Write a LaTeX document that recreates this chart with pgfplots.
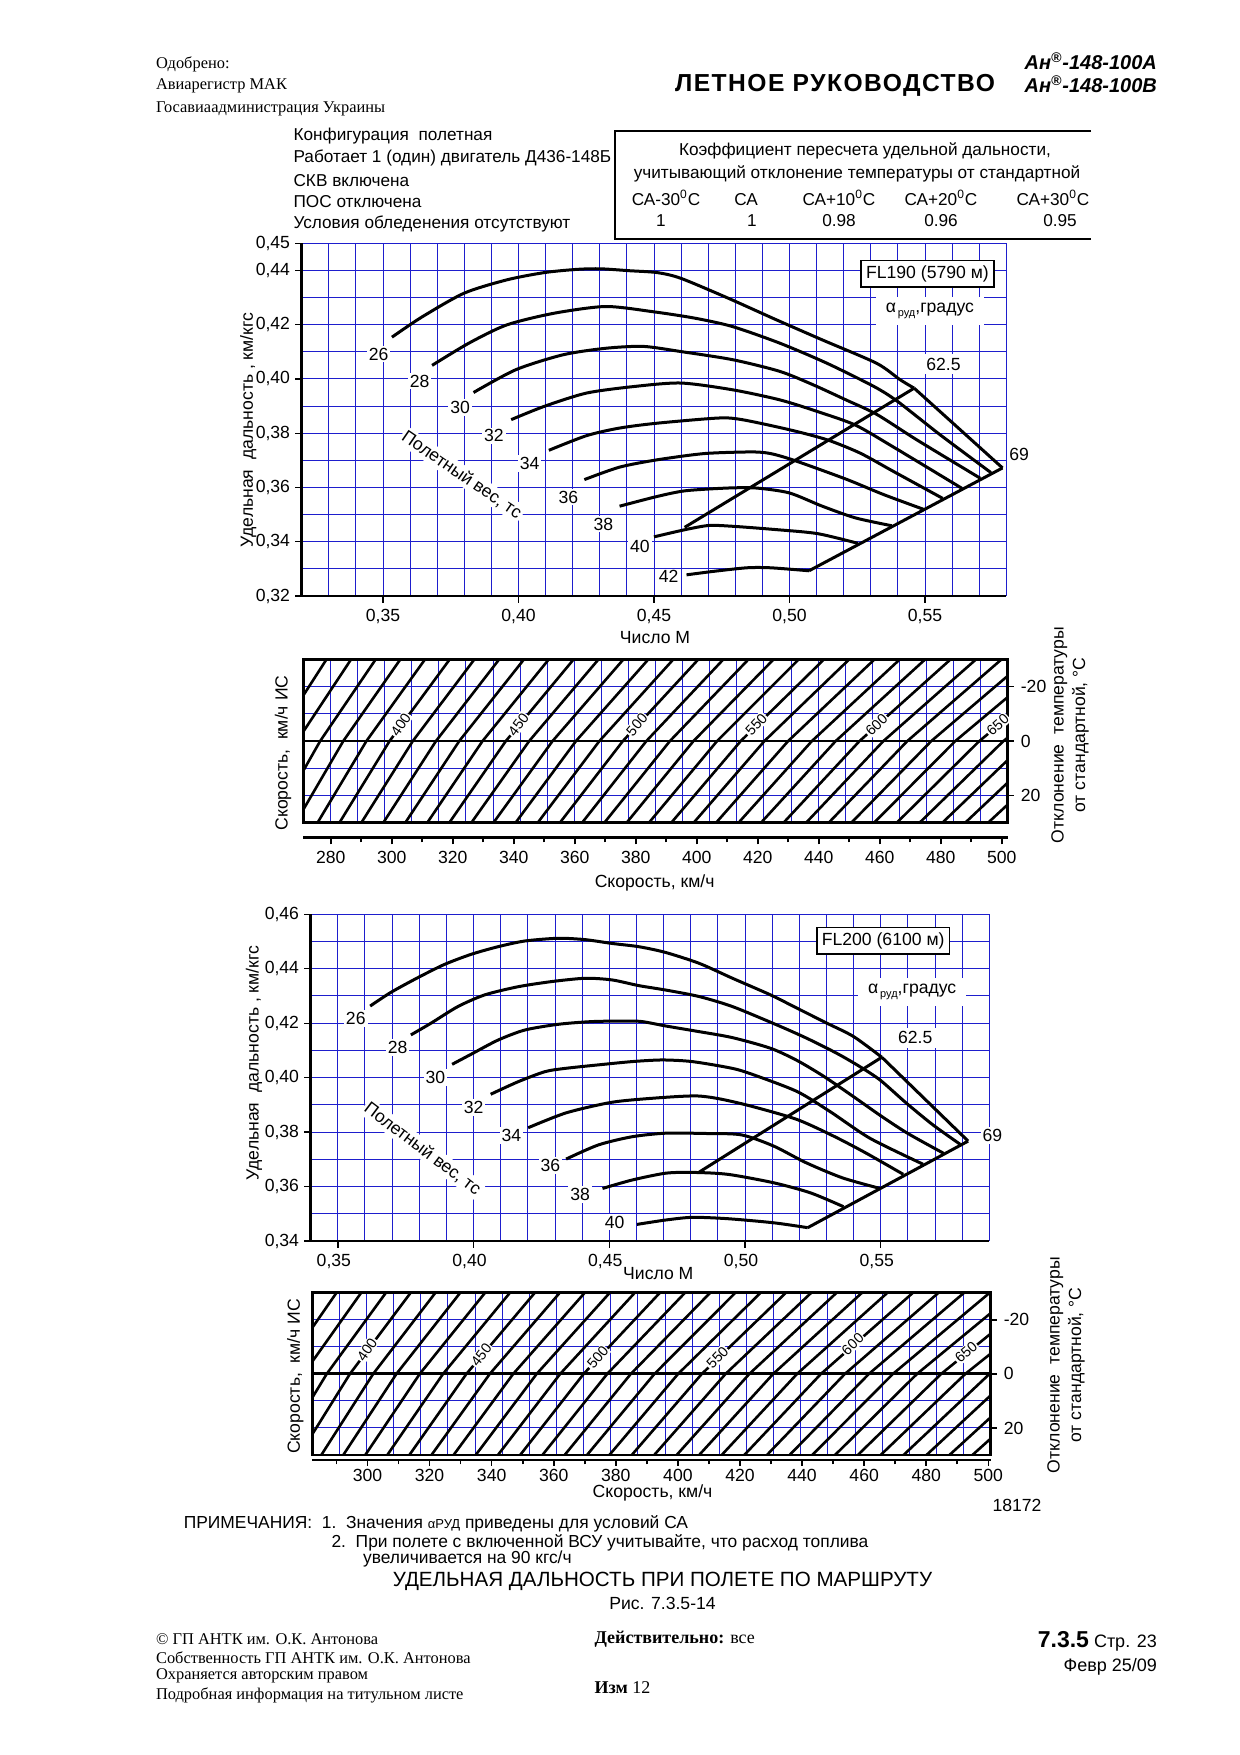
\documentclass[border=0pt]{standalone}
\usepackage{fontspec}
\setmainfont{Liberation Sans}
\newfontfamily\tnr{Liberation Serif}
\usepackage{pgfplots}
\pgfplotsset{compat=1.18}
\definecolor{gridblue}{RGB}{30,30,205}
\newcommand\fs[1]{\fontsize{#1pt}{#1pt}\selectfont}
\tikzset{
  lbl/.style={fill=white, inner sep=1pt, font=\fs{8.8}},
  hlbl/.style={fill=white, inner sep=0.6pt, font=\fs{7.2}},
}
\pgfplotsset{
  /pgf/number format/assume math mode=true,
  mchart/.style={scale only axis, anchor=south west,
    axis line style={draw=none},
    xtick pos=left, ytick pos=left,
    tick align=outside, major tick length=3.3pt, minor tick length=0pt,
    tick style={black, line width=0.7pt},
    grid=both, major grid style={gridblue, line width=0.5pt}, minor grid style={gridblue, line width=0.5pt},
    ticklabel style={font=\fs{8.8}},
    yticklabel style={xshift=1pt},
    clip mode=individual},
  hatch/.style={scale only axis, anchor=south west, axis line style={draw=none},
    y dir=reverse, ymin=-30, ymax=30, major tick length=0pt, minor tick length=0pt,
    xticklabels={}, ytick={-20,0,20}, yticklabels={-20,0,20}, minor ytick={-10,10},
    ytick pos=right, yticklabel pos=right, yticklabel style={font=\fs{8.8}, xshift=3pt},
    grid=both, major grid style={gridblue, line width=0.5pt}, minor grid style={gridblue, line width=0.5pt},
    clip mode=individual},
  saxis/.style={scale only axis, anchor=south west, height=2pt, ymin=0, ymax=1, ytick=\empty,
    axis line style={draw=none}, xtick pos=left, tick align=outside, clip=false,
    major tick length=3.5pt, minor tick length=2.5pt, tick style={black, line width=0.8pt},
    ticklabel style={font=\fs{8.8}}},
  curve/.style={black, line width=1.5pt, smooth, tension=0.45, mark=none},
  hl/.style={black, line width=1.3pt, mark=none},
}
\begin{document}
\begin{tikzpicture}
\fill[white] (0,0) rectangle (620pt,-877.5pt);
\useasboundingbox (0,0) rectangle (620pt,-877.5pt);

% ===================== FL190 =====================
\begin{axis}[mchart, at={(150.85pt,-298pt)}, width=352.3pt, height=176.35pt,
  xmin=0.32, xmax=0.58, ymin=0.32, ymax=0.45,
  xtick={0.35,0.40,0.45,0.50,0.55}, xticklabels={{0,35},{0,40},{0,45},{0,50},{0,55}},
  minor xtick={0.33,0.34,0.36,0.37,0.38,0.39,0.41,0.42,0.43,0.44,0.46,0.47,0.48,0.49,0.51,0.52,0.53,0.54,0.56,0.57,0.58},
  ytick={0.32,0.34,0.36,0.38,0.40,0.42,0.44,0.45},
  yticklabels={{0,32},{0,34},{0,36},{0,38},{0,40},{0,42},{0,44},{0,45}},
  minor ytick={0.33,0.35,0.37,0.39,0.41,0.43}]
\addplot[curve] coordinates {(0.3533,0.4154) (0.3643,0.4228) (0.3799,0.4316) (0.3956,0.4365) (0.4095,0.4392) (0.4217,0.4404) (0.4303,0.4406) (0.4408,0.4399) (0.4512,0.4392) (0.4599,0.4371) (0.4773,0.4298) (0.4947,0.4220) (0.5121,0.4144) (0.5321,0.4058) (0.5407,0.3998) (0.5460,0.3966)};
\addplot[hl, line width=1.5pt] coordinates {(0.5460,0.3966) (0.5786,0.3672)};
\addplot[curve] coordinates {(0.3681,0.4050) (0.3817,0.4132) (0.3956,0.4199) (0.4130,0.4242) (0.4321,0.4267) (0.4495,0.4248) (0.4651,0.4224) (0.4790,0.4193) (0.4964,0.4132) (0.5138,0.4058) (0.5312,0.3972) (0.5399,0.3917) (0.5556,0.3794) (0.5743,0.3655)};
\addplot[curve] coordinates {(0.3834,0.3950) (0.3990,0.4034) (0.4164,0.4089) (0.4321,0.4113) (0.4460,0.4120) (0.4599,0.4101) (0.4790,0.4071) (0.4964,0.4028) (0.5086,0.3979) (0.5208,0.3923) (0.5321,0.3870) (0.5469,0.3776) (0.5704,0.3634)};
\addplot[curve] coordinates {(0.3973,0.3850) (0.4095,0.3899) (0.4251,0.3948) (0.4425,0.3972) (0.4599,0.3985) (0.4790,0.3960) (0.4964,0.3923) (0.5103,0.3880) (0.5243,0.3830) (0.5382,0.3750) (0.5636,0.3597)};
\addplot[curve] coordinates {(0.4112,0.3737) (0.4251,0.3791) (0.4373,0.3819) (0.4512,0.3837) (0.4738,0.3856) (0.4825,0.3850) (0.4999,0.3813) (0.5138,0.3776) (0.5260,0.3727) (0.5382,0.3660) (0.5565,0.3560)};
\addplot[curve] coordinates {(0.4243,0.3629) (0.4373,0.3675) (0.4512,0.3702) (0.4686,0.3725) (0.4860,0.3731) (0.4930,0.3725) (0.5017,0.3700) (0.5208,0.3631) (0.5347,0.3574) (0.5496,0.3519)};
\addplot[curve] coordinates {(0.4373,0.3531) (0.4512,0.3567) (0.4617,0.3588) (0.4773,0.3598) (0.4877,0.3598) (0.4999,0.3580) (0.5121,0.3531) (0.5243,0.3488) (0.5377,0.3459)};
\addplot[curve] coordinates {(0.4500,0.3418) (0.4617,0.3445) (0.4703,0.3460) (0.4790,0.3457) (0.4947,0.3445) (0.5103,0.3430) (0.5253,0.3394)};
\addplot[curve] coordinates {(0.4620,0.3278) (0.4721,0.3291) (0.4843,0.3304) (0.4930,0.3304) (0.5072,0.3293)};
\addplot[hl, line width=1.5pt] coordinates {(0.4613,0.3453) (0.5460,0.3966)};
\addplot[hl, line width=1.5pt] coordinates {(0.5072,0.3293) (0.5786,0.3672)};
\draw[line width=1.4pt] (rel axis cs:0,1) -- (rel axis cs:0,0) -- (rel axis cs:1,0);
\node[lbl] at (axis cs:0.3484,0.4092) {26};
\node[lbl] at (axis cs:0.3635,0.3992) {28};
\node[lbl] at (axis cs:0.3785,0.3894) {30};
\node[lbl] at (axis cs:0.3909,0.3790) {32};
\node[lbl] at (axis cs:0.4041,0.3689) {34};
\node[lbl] at (axis cs:0.4184,0.3564) {36};
\node[lbl] at (axis cs:0.4313,0.3465) {38};
\node[lbl] at (axis cs:0.4448,0.3384) {40};
\node[lbl] at (axis cs:0.4554,0.3271) {42};
\node[lbl, rotate=-34.4] at (axis cs:0.3791,0.3646) {Полетный вес, тс};
\node[draw=black, fill=white, line width=0.8pt, inner sep=2.5pt, font=\fs{8.8}] at (axis cs:0.5509,0.4388) {FL190 (5790 м)};
\node[fill=white, inner xsep=5pt, inner ysep=3pt, font=\fs{8.8}] at (axis cs:0.5518,0.4250) {α\raisebox{-2pt}{\fs{5.5}\,руд},градус};
\node[fill=white, inner xsep=6pt, inner ysep=2pt, font=\fs{8.8}] at (axis cs:0.5568,0.4055) {62.5};
\node[fill=white, inner sep=1pt, font=\fs{8.8}] at (axis cs:0.5847,0.3723) {69};
\end{axis}

% ===================== hatch FL190 =====================
\begin{axis}[hatch, at={(151.65pt,-411.35pt)}, width=352.25pt, height=81.7pt,
  xmin=271, xmax=502,
  xtick={279.89,288.77,297.66,306.54,315.43,324.31,333.20,342.08,350.97,359.85,368.74,377.62,386.51,395.39,404.28,413.16,422.05,430.93,439.82,448.70,457.59,466.47,475.36,484.24,493.13}]
\addplot[hl] coordinates {(278.62,-30) (261.40,0) (247.03,30)};
\addplot[hl] coordinates {(286.68,-30) (268.97,0) (254.18,30)};
\addplot[hl] coordinates {(294.75,-30) (276.54,0) (261.33,30)};
\addplot[hl] coordinates {(302.83,-30) (284.12,0) (268.50,30)};
\addplot[hl] coordinates {(310.92,-30) (291.71,0) (275.67,30)};
\addplot[hl] coordinates {(319.02,-30) (299.30,0) (282.85,30)};
\addplot[hl] coordinates {(327.12,-30) (306.91,0) (290.03,30)};
\addplot[hl] coordinates {(335.24,-30) (314.52,0) (297.23,30)};
\addplot[hl] coordinates {(343.37,-30) (322.15,0) (304.44,30)};
\addplot[hl] coordinates {(351.50,-30) (329.78,0) (311.65,30)};
\addplot[hl] coordinates {(359.65,-30) (337.42,0) (318.87,30)};
\addplot[hl] coordinates {(367.81,-30) (345.08,0) (326.11,30)};
\addplot[hl] coordinates {(375.98,-30) (352.74,0) (333.35,30)};
\addplot[hl] coordinates {(384.15,-30) (360.41,0) (340.60,30)};
\addplot[hl] coordinates {(392.35,-30) (368.10,0) (347.86,30)};
\addplot[hl] coordinates {(400.55,-30) (375.80,0) (355.13,30)};
\addplot[hl] coordinates {(408.76,-30) (383.50,0) (362.42,30)};
\addplot[hl] coordinates {(416.99,-30) (391.22,0) (369.71,30)};
\addplot[hl] coordinates {(425.23,-30) (398.95,0) (377.02,30)};
\addplot[hl] coordinates {(433.48,-30) (406.69,0) (384.33,30)};
\addplot[hl] coordinates {(441.74,-30) (414.44,0) (391.66,30)};
\addplot[hl] coordinates {(450.02,-30) (422.21,0) (399.00,30)};
\addplot[hl] coordinates {(458.31,-30) (429.99,0) (406.35,30)};
\addplot[hl] coordinates {(466.61,-30) (437.78,0) (413.71,30)};
\addplot[hl] coordinates {(474.93,-30) (445.58,0) (421.08,30)};
\addplot[hl] coordinates {(483.26,-30) (453.40,0) (428.47,30)};
\addplot[hl] coordinates {(491.61,-30) (461.23,0) (435.87,30)};
\addplot[hl] coordinates {(499.97,-30) (469.07,0) (443.28,30)};
\addplot[hl] coordinates {(508.35,-30) (476.93,0) (450.71,30)};
\addplot[hl] coordinates {(516.74,-30) (484.80,0) (458.15,30)};
\addplot[hl] coordinates {(525.14,-30) (492.69,0) (465.60,30)};
\addplot[hl] coordinates {(533.56,-30) (500.59,0) (473.07,30)};
\addplot[hl] coordinates {(542.00,-30) (508.50,0) (480.54,30)};
\addplot[hl] coordinates {(550.45,-30) (516.43,0) (488.04,30)};
\addplot[hl] coordinates {(558.92,-30) (524.38,0) (495.55,30)};
\addplot[hl] coordinates {(567.40,-30) (532.34,0) (503.07,30)};
\draw[line width=1.4pt] (axis cs:271,0) -- (axis cs:502,0);
\draw[line width=1.4pt] (rel axis cs:0,0) rectangle (rel axis cs:1,1);
\draw[line width=0.8pt] (axis cs:502,-20) -- ([xshift=3pt]axis cs:502,-20);
\draw[line width=0.8pt] (axis cs:502,0) -- ([xshift=3pt]axis cs:502,0);
\draw[line width=0.8pt] (axis cs:502,20) -- ([xshift=3pt]axis cs:502,20);
\node[hlbl, rotate=56] at (axis cs:302.95,-6) {400};
\node[hlbl, rotate=53] at (axis cs:341.54,-6) {450};
\node[hlbl, rotate=50] at (axis cs:380.38,-6) {500};
\node[hlbl, rotate=47] at (axis cs:419.50,-6) {550};
\node[hlbl, rotate=44] at (axis cs:458.93,-6) {600};
\node[hlbl, rotate=42] at (axis cs:498.70,-6) {650};
\end{axis}

% speed axis FL190
\begin{axis}[saxis, at={(151.65pt,-418.65pt)}, width=352.25pt,
  xmin=271, xmax=502,
  xtick={280,300,320,340,360,380,400,420,440,460,480,500},
  xticklabels={280,300,320,340,360,380,400,420,440,460,480,500},
  minor xtick={290,310,330,350,370,390,410,430,450,470,490}]
\draw[line width=1.4pt] (rel axis cs:0,0) -- (rel axis cs:1,0);
\end{axis}

% ===================== FL200 =====================
\begin{axis}[mchart, at={(155.35pt,-620.5pt)}, width=339.3pt, height=163.35pt,
  xmin=0.34, xmax=0.59, ymin=0.34, ymax=0.46,
  xtick={0.35,0.40,0.45,0.50,0.55}, xticklabels={{0,35},{0,40},{0,45},{0,50},{0,55}},
  xticklabel style={xshift=-2pt},
  minor xtick={0.36,0.37,0.38,0.39,0.41,0.42,0.43,0.44,0.46,0.47,0.48,0.49,0.51,0.52,0.53,0.54,0.56,0.57,0.58,0.59},
  ytick={0.34,0.36,0.38,0.40,0.42,0.44,0.46},
  yticklabels={{0,34},{0,36},{0,38},{0,40},{0,42},{0,44},{0,46}},
  minor ytick={0.35,0.37,0.39,0.41,0.43,0.45}]
\addplot[curve] coordinates {(0.3619,0.4263) (0.3695,0.4313) (0.3794,0.4367) (0.3893,0.4416) (0.3991,0.4453) (0.4090,0.4481) (0.4189,0.4502) (0.4312,0.4512) (0.4411,0.4507) (0.4510,0.4493) (0.4609,0.4481) (0.4707,0.4460) (0.4831,0.4420) (0.4954,0.4365) (0.5094,0.4304) (0.5192,0.4255) (0.5302,0.4200) (0.5400,0.4151) (0.5504,0.4075)};
\addplot[hl, line width=1.5pt] coordinates {(0.5504,0.4075) (0.5822,0.3767)};
\addplot[curve] coordinates {(0.3769,0.4157) (0.3843,0.4200) (0.3942,0.4261) (0.4041,0.4304) (0.4164,0.4334) (0.4288,0.4353) (0.4411,0.4365) (0.4510,0.4359) (0.4609,0.4338) (0.4707,0.4322) (0.4831,0.4298) (0.4954,0.4261) (0.5119,0.4193) (0.5229,0.4144) (0.5339,0.4089) (0.5424,0.4040) (0.5498,0.3991) (0.5595,0.3906) (0.5693,0.3826) (0.5793,0.3755)};
\addplot[curve] coordinates {(0.3921,0.4049) (0.3991,0.4086) (0.4090,0.4138) (0.4189,0.4175) (0.4312,0.4196) (0.4436,0.4206) (0.4559,0.4208) (0.4621,0.4206) (0.4707,0.4190) (0.4831,0.4169) (0.4954,0.4147) (0.5094,0.4108) (0.5192,0.4063) (0.5290,0.4005) (0.5400,0.3930) (0.5500,0.3860) (0.5600,0.3795) (0.5732,0.3722)};
\addplot[curve] coordinates {(0.4063,0.3939) (0.4164,0.3985) (0.4263,0.4022) (0.4337,0.4034) (0.4460,0.4047) (0.4584,0.4059) (0.4695,0.4065) (0.4806,0.4059) (0.4954,0.4034) (0.5033,0.4010) (0.5192,0.3949) (0.5314,0.3875) (0.5461,0.3777) (0.5656,0.3682)};
\addplot[curve] coordinates {(0.4201,0.3816) (0.4342,0.3871) (0.4512,0.3910) (0.4681,0.3926) (0.4817,0.3933) (0.4902,0.3923) (0.5020,0.3896) (0.5190,0.3847) (0.5325,0.3786) (0.5444,0.3724) (0.5583,0.3645)};
\addplot[curve] coordinates {(0.4341,0.3701) (0.4460,0.3753) (0.4584,0.3783) (0.4707,0.3796) (0.4851,0.3795) (0.4986,0.3790) (0.5105,0.3749) (0.5224,0.3688) (0.5359,0.3632) (0.5498,0.3593)};
\addplot[curve] coordinates {(0.4475,0.3593) (0.4584,0.3624) (0.4707,0.3649) (0.4806,0.3652) (0.4936,0.3645) (0.5105,0.3614) (0.5241,0.3577) (0.5363,0.3526)};
\addplot[curve] coordinates {(0.4602,0.3461) (0.4707,0.3477) (0.4806,0.3487) (0.4936,0.3482) (0.5105,0.3467) (0.5231,0.3449)};
\addplot[hl, line width=1.5pt] coordinates {(0.4831,0.3653) (0.5504,0.4075)};
\addplot[hl, line width=1.5pt] coordinates {(0.5231,0.3449) (0.5822,0.3767)};
\draw[line width=1.4pt] (rel axis cs:0,1) -- (rel axis cs:0,0) -- (rel axis cs:1,0);
\node[lbl] at (axis cs:0.3566,0.4218) {26};
\node[lbl] at (axis cs:0.3720,0.4110) {28};
\node[lbl] at (axis cs:0.3859,0.4000) {30};
\node[lbl] at (axis cs:0.4000,0.3890) {32};
\node[lbl] at (axis cs:0.4139,0.3788) {34};
\node[lbl] at (axis cs:0.4283,0.3678) {36};
\node[lbl] at (axis cs:0.4393,0.3571) {38};
\node[lbl] at (axis cs:0.4520,0.3470) {40};
\node[lbl, rotate=-37] at (axis cs:0.3812,0.3738) {Полетный вес, тс};
\node[draw=black, fill=white, line width=0.8pt, inner sep=2.5pt, font=\fs{8.8}] at (axis cs:0.5509,0.4503) {FL200 (6100 м)};
\node[fill=white, inner xsep=5pt, inner ysep=3pt, font=\fs{8.8}] at (axis cs:0.5616,0.4314) {α\raisebox{-2pt}{\fs{5.5}\,руд},градус};
\node[fill=white, inner xsep=6pt, inner ysep=2pt, font=\fs{8.8}] at (axis cs:0.5627,0.4146) {62.5};
\node[fill=white, inner sep=1pt, font=\fs{8.8}] at (axis cs:0.5911,0.3787) {69};
\end{axis}

% ===================== hatch FL200 =====================
\begin{axis}[hatch, at={(156.1pt,-727.5pt)}, width=339.27pt, height=81.15pt,
  xmin=282.18, xmax=500.78,
  xtick={290.92,299.67,308.41,317.16,325.90,334.64,343.39,352.13,360.88,369.62,378.36,387.11,395.85,404.60,413.34,422.08,430.83,439.57,448.32,457.06,465.80,474.55,483.29,492.04}]
\addplot[hl] coordinates {(282.07,-30) (264.49,0) (249.84,30)};
\addplot[hl] coordinates {(290.01,-30) (271.94,0) (256.88,30)};
\addplot[hl] coordinates {(297.96,-30) (279.40,0) (263.92,30)};
\addplot[hl] coordinates {(305.93,-30) (286.87,0) (270.97,30)};
\addplot[hl] coordinates {(313.90,-30) (294.34,0) (278.04,30)};
\addplot[hl] coordinates {(321.88,-30) (301.83,0) (285.11,30)};
\addplot[hl] coordinates {(329.87,-30) (309.32,0) (292.19,30)};
\addplot[hl] coordinates {(337.88,-30) (316.83,0) (299.28,30)};
\addplot[hl] coordinates {(345.89,-30) (324.34,0) (306.37,30)};
\addplot[hl] coordinates {(353.91,-30) (331.87,0) (313.48,30)};
\addplot[hl] coordinates {(361.95,-30) (339.40,0) (320.60,30)};
\addplot[hl] coordinates {(369.99,-30) (346.94,0) (327.72,30)};
\addplot[hl] coordinates {(378.05,-30) (354.50,0) (334.86,30)};
\addplot[hl] coordinates {(386.12,-30) (362.07,0) (342.01,30)};
\addplot[hl] coordinates {(394.20,-30) (369.64,0) (349.17,30)};
\addplot[hl] coordinates {(402.30,-30) (377.23,0) (356.34,30)};
\addplot[hl] coordinates {(410.40,-30) (384.83,0) (363.51,30)};
\addplot[hl] coordinates {(418.52,-30) (392.45,0) (370.71,30)};
\addplot[hl] coordinates {(426.65,-30) (400.07,0) (377.91,30)};
\addplot[hl] coordinates {(434.80,-30) (407.71,0) (385.12,30)};
\addplot[hl] coordinates {(442.96,-30) (415.36,0) (392.35,30)};
\addplot[hl] coordinates {(451.13,-30) (423.02,0) (399.59,30)};
\addplot[hl] coordinates {(459.31,-30) (430.70,0) (406.84,30)};
\addplot[hl] coordinates {(467.51,-30) (438.39,0) (414.10,30)};
\addplot[hl] coordinates {(475.73,-30) (446.09,0) (421.38,30)};
\addplot[hl] coordinates {(483.96,-30) (453.81,0) (428.66,30)};
\addplot[hl] coordinates {(492.20,-30) (461.54,0) (435.97,30)};
\addplot[hl] coordinates {(500.46,-30) (469.28,0) (443.28,30)};
\addplot[hl] coordinates {(508.73,-30) (477.04,0) (450.61,30)};
\addplot[hl] coordinates {(517.02,-30) (484.81,0) (457.95,30)};
\addplot[hl] coordinates {(525.33,-30) (492.60,0) (465.31,30)};
\addplot[hl] coordinates {(533.65,-30) (500.40,0) (472.68,30)};
\addplot[hl] coordinates {(541.99,-30) (508.22,0) (480.07,30)};
\addplot[hl] coordinates {(550.34,-30) (516.06,0) (487.47,30)};
\addplot[hl] coordinates {(558.71,-30) (523.91,0) (494.88,30)};
\draw[line width=1.4pt] (axis cs:282.18,0) -- (axis cs:500.78,0);
\draw[line width=1.4pt] (rel axis cs:0,0) rectangle (rel axis cs:1,1);
\draw[line width=0.8pt] (axis cs:500.78,-20) -- ([xshift=3pt]axis cs:500.78,-20);
\draw[line width=0.8pt] (axis cs:500.78,0) -- ([xshift=3pt]axis cs:500.78,0);
\draw[line width=0.8pt] (axis cs:500.78,20) -- ([xshift=3pt]axis cs:500.78,20);
\node[hlbl, rotate=55.6] at (axis cs:299.83,-9) {400};
\node[hlbl, rotate=52.3] at (axis cs:336.64,-7) {450};
\node[hlbl, rotate=49.3] at (axis cs:374.19,-6) {500};
\node[hlbl, rotate=46.5] at (axis cs:412.72,-6) {550};
\node[hlbl, rotate=43.9] at (axis cs:456.30,-11) {600};
\node[hlbl, rotate=41.5] at (axis cs:492.80,-8) {650};
\end{axis}

% speed axis FL200
\begin{axis}[saxis, at={(156.1pt,-730pt)}, width=339.27pt,
  xmin=282.18, xmax=500.78, major tick length=2.8pt, minor tick length=2.2pt,
  xtick={300,320,340,360,380,400,420,440,460,480,500},
  xticklabels={300,320,340,360,380,400,420,440,460,480,500},
  xticklabel style={yshift=1.5pt},
  minor xtick={290,310,330,350,370,390,410,430,450,470,490}]
\draw[line width=1.4pt] (rel axis cs:0,0) -- (rel axis cs:1,0);
\end{axis}

% ===================== texts =====================
\begin{scope}[x=0.5pt,y=-0.5pt]
\node[anchor=west, font=\tnr\fs{8.2}] at (149,64) {Одобрено:};
\node[anchor=west, font=\tnr\fs{8.2}] at (149,86) {Авиарегистр МАК};
\node[anchor=west, font=\tnr\fs{8.2}] at (149,108.5) {Госавиаадминистрация Украины};
\node[font=\bfseries\fs{12.3}\addfontfeature{LetterSpace=6}] at (835,85) {ЛЕТНОЕ РУКОВОДСТВО};
\node[anchor=east, font=\bfseries\itshape\fs{10}] at (1164,61.5) {Ан\textsuperscript{®}-148-100А};
\node[anchor=east, font=\bfseries\itshape\fs{10}] at (1164,84) {Ан\textsuperscript{®}-148-100В};

\node[anchor=west, font=\fs{8.6}] at (286.5,136.5) {Конфигурация\ \ полетная};
\node[anchor=west, font=\fs{8.6}] at (286.5,157.8) {Работает 1 (один) двигатель Д436-148Б};
\node[anchor=west, font=\fs{8.6}] at (286.5,180.2) {СКВ включена};
\node[anchor=west, font=\fs{8.6}] at (286.5,201.4) {ПОС отключена};
\node[anchor=west, font=\fs{8.6}] at (286.5,223.8) {Условия обледенения отсутствуют};

\draw[line width=0.9pt] (1091,131) -- (615,131) -- (615,239) -- (1091,239);
\node[font=\fs{8.6}] at (865,151) {Коэффициент пересчета удельной дальности,};
\node[font=\fs{8.6}] at (857,173.5) {учитывающий отклонение температуры от стандартной};
\node[font=\fs{8.6}] at (666,198) {СА-30\textsuperscript{0}С};
\node[font=\fs{8.6}] at (746,198) {СА\vphantom{\textsuperscript{0}}};
\node[font=\fs{8.6}] at (839,198) {СА+10\textsuperscript{0}С};
\node[font=\fs{8.6}] at (941,198) {СА+20\textsuperscript{0}С};
\node[font=\fs{8.6}] at (1053,198) {СА+30\textsuperscript{0}С};
\node[font=\fs{8.6}] at (661,220.5) {1};
\node[font=\fs{8.6}] at (752,220.5) {1};
\node[font=\fs{8.6}] at (839,220.5) {0.98};
\node[font=\fs{8.6}] at (941,220.5) {0.96};
\node[font=\fs{8.6}] at (1060,220.5) {0.95};

\node[rotate=90, font=\fs{8.8}] at (248.3,430) {Удельная\ \ дальность , км/кгс};
\node[font=\fs{8.8}] at (655,638) {Число М};
\node[rotate=90, font=\fs{8.8}] at (283,753) {Скорость,\ \ км/ч ИС};
\node[rotate=90, font=\fs{8.8}, align=center] at (1070,735) {Отклонение\ \ температуры\\[2pt]от стандартной, °С};
\node[font=\fs{8.8}] at (654.6,883) {Скорость, км/ч};

\node[rotate=90, font=\fs{8.8}] at (254,1063) {Удельная\ \ дальность , км/кгс};
\node[font=\fs{8.8}] at (658.3,1273.3) {Число М};
\node[rotate=90, font=\fs{8.8}] at (295.4,1376.4) {Скорость,\ \ км/ч ИС};
\node[rotate=90, font=\fs{8.8}, align=center] at (1066,1365) {Отклонение\ \ температуры\\[2pt]от стандартной, °С};
\node[font=\fs{8.8}] at (652.5,1493) {Скорость, км/ч};
\node[font=\fs{8.8}] at (1017,1505) {18172};

\node[anchor=west, font=\fs{8.7}] at (176.8,1524) {ПРИМЕЧАНИЯ:\ \ 1.\ \ Значения {\fs{6.5}αРУД} приведены для условий СА};
\node[anchor=west, font=\fs{8.7}] at (324.5,1543) {2.\ \ При полете с включенной ВСУ учитывайте, что расход топлива};
\node[anchor=west, font=\fs{8.7}] at (356,1559) {увеличивается на 90 кгс/ч};
\node[font=\fs{10.3}] at (662.5,1581) {УДЕЛЬНАЯ ДАЛЬНОСТЬ ПРИ ПОЛЕТЕ ПО МАРШРУТУ};
\node[font=\fs{8.8}] at (662.5,1603.5) {Рис. 7.3.5-14};

\node[anchor=west, font=\tnr\fs{8.2}] at (149,1639) {© ГП АНТК им. О.К. Антонова};
\node[anchor=west, font=\tnr\fs{8.2}] at (149,1658) {Собственность ГП АНТК им. О.К. Антонова};
\node[anchor=west, font=\tnr\fs{8.2}] at (149,1676) {Охраняется авторским правом};
\node[anchor=west, font=\tnr\fs{8.2}] at (149,1695) {Подробная информация на титульном листе};
\node[anchor=west, font=\tnr\fs{9}] at (587.5,1639) {\bfseries Действительно: \mdseries все};
\node[anchor=west, font=\tnr\fs{9}] at (587.5,1687.5) {\bfseries Изм \mdseries 12};
\node[anchor=east, font=\fs{9}] at (1164,1641.5) {{\bfseries\fs{11.5}7.3.5} Стр. 23};
\node[anchor=east, font=\fs{9}] at (1164,1667) {Февр 25/09};
\end{scope}
\end{tikzpicture}
\end{document}
